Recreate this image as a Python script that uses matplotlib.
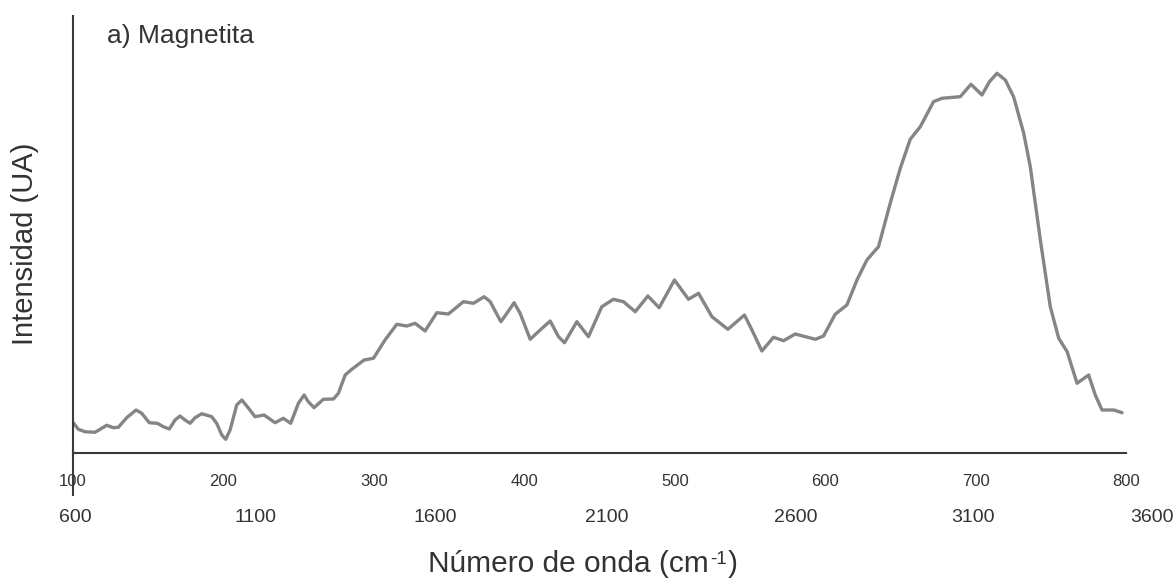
import matplotlib.pyplot as plt

# spectrum (top axis units, arbitrary intensity)
wavenumber = [100.2, 103.5, 108.0, 114.6, 118.0, 122.4, 126.8, 130.1, 135.7, 141.9,
              145.7, 150.7, 156.1, 160.0, 164.0, 167.8, 171.1, 174.5, 177.8, 181.1,
              185.6, 192.2, 195.5, 198.9, 201.5, 204.4, 208.8, 212.2, 215.5, 221.0,
              227.0, 234.3, 239.8, 244.7, 249.8, 253.6, 256.4, 260.2, 266.4, 273.1,
              276.4, 280.9, 285.3, 293.5, 299.7, 307.4, 315.2, 321.9, 327.4, 334.0,
              341.8, 349.5, 359.5, 366.2, 373.3, 377.3, 384.4, 388.4, 393.2, 397.2,
              403.9, 410.5, 417.2, 422.7, 426.7, 434.9, 442.6, 451.5, 459.2, 465.9,
              473.7, 482.1, 489.6, 499.8, 509.1, 515.8, 524.7, 535.3, 546.3, 551.3,
              557.9, 565.6, 572.3, 580.1, 593.4, 598.9, 606.6, 614.4, 621.1, 627.7,
              635.4, 643.2, 649.9, 656.5, 663.2, 672.0, 677.6, 689.8, 696.9, 704.2,
              709.2, 714.2, 719.7, 725.2, 731.9, 736.3, 743.0, 749.6, 755.2, 760.8,
              767.4, 775.1, 779.5, 784.0, 791.8, 797.3]
intensity = [30.3, 23.7, 21.3, 20.7, 23.7, 27.7, 25.3, 25.7, 35.3, 43,
             39.7, 30.3, 29.7, 26.3, 24, 33, 37, 33, 29.7, 35.3,
             39.3, 36.3, 29.7, 18, 13.7, 23, 48, 53, 47, 36.3,
             38, 30.3, 34.7, 29.7, 49.7, 58, 51.3, 45.3, 53.7, 54,
             59.7, 78, 83.7, 93, 94.7, 113, 128.7, 127, 129.7, 122,
             140.3, 139, 151.3, 149.7, 156.3, 151.3, 131.3, 139.7, 150.3, 139.7,
             113.7, 123, 132, 116.3, 110.3, 131.3, 116.3, 146.3, 153.7, 151.3,
             141.3, 157, 145.3, 173, 153.7, 159.7, 136.3, 123.7, 138, 123,
             102, 115.7, 112.3, 119, 113.7, 117, 138.7, 148, 173, 193,
             206.3, 249.7, 284.7, 313.7, 326.3, 351.3, 354.7, 356.3, 368.7, 358,
             371.3, 379.7, 373, 356.3, 320, 286.3, 213, 146.3, 114.7, 101.3,
             69.7, 78, 58, 43, 43, 40.3]

top_ticks = [100, 200, 300, 400, 500, 600, 700, 800]
# second row of labels sits at uneven positions in the original figure
bottom_labels = ['600', '1100', '1600', '2100', '2600', '3100', '3600']
bottom_pos = [101.3, 221, 340.7, 455, 580.7, 698.4, 817.4]

plt.rcParams['font.family'] = ['Liberation Sans', 'DejaVu Sans']

fig = plt.figure(figsize=(11.74, 5.81), dpi=100)
ax = fig.add_axes([0.0622, 0.2203, 0.8970, 0.7522])

ax.plot(wavenumber, intensity, color='#858585', linewidth=2.4,
        solid_joinstyle='round', solid_capstyle='round')

ax.set_xlim(100, 800)
ax.set_ylim(0, 437)
ax.spines['top'].set_visible(False)
ax.spines['right'].set_visible(False)
for side in ['left', 'bottom']:
    ax.spines[side].set_color('#3a3a3a')
    ax.spines[side].set_linewidth(1.5)
# y axis line runs a bit below the x axis
ax.plot([0, 0], [-0.095, 0], transform=ax.transAxes, color='#3a3a3a',
        linewidth=1.5, clip_on=False)

ax.set_yticks([])
ax.set_xticks(top_ticks)
ax.set_xticklabels([str(t) for t in top_ticks])
ax.tick_params(axis='x', length=0, pad=15, labelsize=12, labelcolor='#333333')

for pos, lab in zip(bottom_pos, bottom_labels):
    ax.text(pos, -0.147, lab, transform=ax.get_xaxis_transform(), ha='center',
            va='center', fontsize=14, color='#333333', clip_on=False)

ax.text(0.032, 0.955, 'a) Magnetita', transform=ax.transAxes, fontsize=19,
        color='#333333', va='center', ha='left')

fig.text(0.0213, 0.58, 'Intensidad (UA)', rotation=90, fontsize=21,
         color='#333333', ha='center', va='center')

# x label: main text, small raised "-1", closing bracket
lbl = fig.text(0.3645, 0.030, 'Número de onda (cm', fontsize=21.5,
               color='#333333', ha='left', va='center')
fig.canvas.draw()
bb = lbl.get_window_extent().transformed(fig.transFigure.inverted())
sup = fig.text(bb.x1 + 0.001, 0.037, '-1', fontsize=13.5, color='#333333',
               ha='left', va='center')
fig.canvas.draw()
bb2 = sup.get_window_extent().transformed(fig.transFigure.inverted())
fig.text(bb2.x1 + 0.001, 0.030, ')', fontsize=21.5, color='#333333',
         ha='left', va='center')

plt.savefig('out.png', dpi=100)
